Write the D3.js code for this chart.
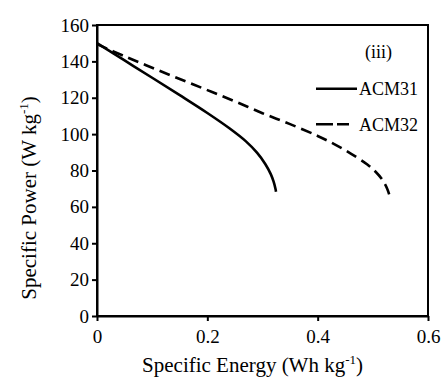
<!DOCTYPE html>
<html>
<head>
<meta charset="utf-8">
<script src="https://cdn.jsdelivr.net/npm/d3@7"></script>
<style>
  body { margin: 0; background: #fff; }
  svg { display: block; }
  svg text { font-family: "Liberation Serif", "Times New Roman", "DejaVu Serif", serif !important; fill: #000; }
</style>
</head>
<body>
<div id="chart"></div>
<script>
// specific energy (Wh/kg) vs specific power (W/kg)
var acm31Energy = [0, 0.05, 0.1, 0.15, 0.2, 0.24, 0.27, 0.29, 0.305, 0.315, 0.32, 0.3235, 0.3245];
var acm31Power = [150, 140.5, 131, 121.4, 111.6, 103.2, 96, 89.8, 83.6, 78, 74, 70, 68.3];
var acm32Energy = [0, 0.05, 0.1, 0.15, 0.2, 0.25, 0.3, 0.35, 0.4, 0.43, 0.46, 0.49, 0.505, 0.517, 0.526, 0.532];
var acm32Power = [149.5, 142.8, 136.5, 130.3, 124.2, 118, 111.5, 105.5, 99, 94.5, 89.3, 83.3, 79.3, 75, 70, 64.5];
var xTicks = [0, 0.2, 0.4, 0.6];
var yTicks = [0, 20, 40, 60, 80, 100, 120, 140, 160];
var seriesNames = ["ACM31", "ACM32"];
var panelLabel = "(iii)";

var margin = { top: 25, right: 13, bottom: 61, left: 97 };
var width = 441,
  height = 377;
var graphWidth = width - margin.left - margin.right,
  graphHeight = height - margin.top - margin.bottom;

var series = [
  { name: seriesNames[0], dash: null, values: acm31Energy.map(function (e, i) { return [e, acm31Power[i]]; }) },
  { name: seriesNames[1], dash: "11,6", values: acm32Energy.map(function (e, i) { return [e, acm32Power[i]]; }) },
];

var svg = d3.select("#chart").append("svg").attr("width", width).attr("height", height);
var graph = svg.append("g").attr("transform", "translate(" + margin.left + "," + margin.top + ")");

var x = d3.scaleLinear().domain([0, 0.6]).range([0, graphWidth]);
var y = d3.scaleLinear().domain([0, 160]).range([graphHeight, 0]);

var xAxis = d3.axisBottom(x).tickValues(xTicks).tickSize(5).tickPadding(9).tickSizeOuter(0)
  .tickFormat(function (d) { return d === 0 ? "0" : d3.format(".1f")(d); });
var yAxis = d3.axisLeft(y).tickValues(yTicks).tickSize(5).tickPadding(3).tickSizeOuter(0);

var gX = graph.append("g").attr("transform", "translate(0," + graphHeight + ")").call(xAxis);
var gY = graph.append("g").call(yAxis);
[gX, gY].forEach(function (g) {
  g.attr("font-family", null).attr("font-size", null);
  g.selectAll("path, line").attr("stroke", "#000").attr("stroke-width", 2);
  g.selectAll("text").style("font-size", "19px");
});

// box on the top and right
graph.append("rect")
  .attr("width", graphWidth)
  .attr("height", graphHeight)
  .attr("fill", "none")
  .attr("stroke", "#000")
  .attr("stroke-width", 2);

var line = d3.line()
  .x(function (d) { return x(d[0]); })
  .y(function (d) { return y(d[1]); })
  .curve(d3.curveCatmullRom.alpha(0.5));

graph.selectAll(".series")
  .data(series)
  .enter()
  .append("path")
  .attr("class", "series")
  .attr("d", function (d) { return line(d.values); })
  .attr("fill", "none")
  .attr("stroke", "#000")
  .attr("stroke-width", 2.6)
  .attr("stroke-dasharray", function (d) { return d.dash; });

// legend
var legend = svg.append("g");
legend.append("text")
  .attr("x", 365)
  .attr("y", 57.5)
  .style("font-size", "18px")
  .text(panelLabel);
var items = legend.selectAll(".item")
  .data(series)
  .enter()
  .append("g")
  .attr("class", "item")
  .attr("transform", function (d, i) { return "translate(0," + (88.7 + i * 35.5) + ")"; });
items.append("line")
  .attr("x1", 316)
  .attr("x2", function (d) { return d.dash ? 349 : 357; })
  .attr("stroke", "#000")
  .attr("stroke-width", 2.6)
  .attr("stroke-dasharray", function (d) { return d.dash ? "17,4" : null; });
items.append("text")
  .attr("x", 359)
  .attr("y", 6.3)
  .style("font-size", "18px")
  .text(function (d) { return d.name; });

// axis titles
var xTitle = svg.append("text")
  .attr("x", margin.left + graphWidth * 0.47)
  .attr("y", 372)
  .attr("text-anchor", "middle")
  .style("font-size", "21px");
xTitle.append("tspan").text("Specific Energy (Wh kg");
xTitle.append("tspan").attr("dy", -8).style("font-size", "13px").text("-1");
xTitle.append("tspan").attr("dy", 8).text(")");

var yTitle = svg.append("text")
  .attr("transform", "translate(36," + 198 + ") rotate(-90)")
  .attr("text-anchor", "middle")
  .style("font-size", "21px");
yTitle.append("tspan").text("Specific Power (W kg");
yTitle.append("tspan").attr("dy", -8).style("font-size", "13px").text("-1");
yTitle.append("tspan").attr("dy", 8).text(")");
</script>
</body>
</html>
